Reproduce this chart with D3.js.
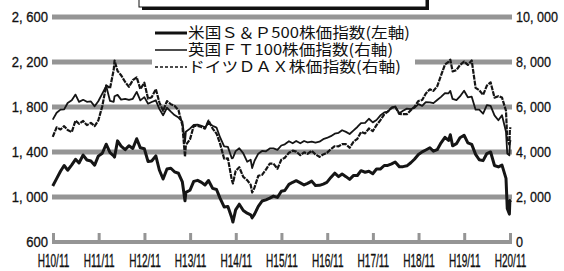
<!DOCTYPE html>
<html><head><meta charset="utf-8">
<script src="https://cdn.jsdelivr.net/npm/d3@7"></script>
<style>
html,body{margin:0;padding:0;background:#fff;}
svg{display:block;}
.num{font-family:"Liberation Sans",Arial,sans-serif;font-size:15px;fill:#111;stroke:#111;stroke-width:0.3px;}
.xl{font-family:"Liberation Sans",Arial,sans-serif;font-size:15px;fill:#111;stroke:#111;stroke-width:0.3px;}
.leg{font-family:"Noto Sans CJK JP","Noto Sans",sans-serif;font-size:15px;fill:#111;}
</style></head>
<body>
<svg id="c" width="564" height="271"></svg>
<script>
// ---- data (month-end closes plus a few intra-month extremes) ----
const dates = [
 "1998-10-30","1998-11-30","1998-12-31",
 "1999-01-29","1999-02-26","1999-03-31","1999-04-30","1999-05-28","1999-06-30","1999-07-30","1999-08-31","1999-09-30","1999-10-29","1999-11-30","1999-12-31",
 "2000-01-31","2000-02-29","2000-03-07","2000-03-31","2000-04-28","2000-05-31","2000-06-30","2000-07-31","2000-08-31","2000-09-29","2000-10-31","2000-11-30","2000-12-29",
 "2001-01-31","2001-02-28","2001-03-30","2001-04-30","2001-05-31","2001-06-29","2001-07-31","2001-08-31","2001-09-21","2001-09-28","2001-10-31","2001-11-30","2001-12-31",
 "2002-01-31","2002-02-28","2002-03-28","2002-04-30","2002-05-31","2002-06-28","2002-07-31","2002-08-30","2002-09-30","2002-10-09","2002-10-31","2002-11-29","2002-12-31",
 "2003-01-31","2003-02-28","2003-03-12","2003-03-31","2003-04-30","2003-05-30","2003-06-30","2003-07-31","2003-08-29","2003-09-30","2003-10-31","2003-11-28","2003-12-31",
 "2004-01-30","2004-02-27","2004-03-31","2004-04-30","2004-05-28","2004-06-30","2004-07-30","2004-08-31","2004-09-30","2004-10-29","2004-11-30","2004-12-31",
 "2005-01-31","2005-02-28","2005-03-31","2005-04-29","2005-05-31","2005-06-30","2005-07-29","2005-08-31","2005-09-30","2005-10-31","2005-11-30","2005-12-30",
 "2006-01-31","2006-02-28","2006-03-31","2006-04-28","2006-05-31","2006-06-30","2006-07-31","2006-08-31","2006-09-29","2006-10-31","2006-11-30","2006-12-29",
 "2007-01-31","2007-02-28","2007-03-30","2007-04-30","2007-05-31","2007-06-29","2007-07-13","2007-07-31","2007-08-31","2007-09-28","2007-10-31","2007-11-30","2007-12-31",
 "2008-01-31","2008-02-29","2008-03-31","2008-04-30","2008-05-30","2008-06-30","2008-07-31","2008-08-29","2008-09-30","2008-10-10","2008-10-27","2008-10-31","2008-11-05"
];
const sp500 = [
 1098,1163,1229,
 1280,1238,1286,1335,1302,1373,1329,1320,1283,1363,1389,1469,
 1394,1366,1355,1499,1452,1421,1455,1431,1518,1437,1429,1315,1320,
 1366,1240,1160,1249,1256,1224,1211,1134,966,1041,1060,1139,1148,
 1130,1107,1147,1077,1067,990,912,916,815,777,886,936,880,
 856,841,815,848,917,964,975,990,1008,996,1051,1058,1112,
 1131,1145,1126,1107,1121,1141,1102,1104,1115,1130,1174,1212,
 1181,1204,1181,1157,1192,1191,1234,1220,1229,1207,1249,1248,
 1280,1281,1295,1311,1270,1270,1277,1304,1336,1378,1401,1418,
 1438,1407,1421,1482,1531,1503,1553,1455,1474,1527,1549,1481,1468,
 1379,1331,1323,1386,1400,1280,1267,1283,1166,899,848,969,953
];
const ftse100 = [
 5438,5743,5883,
 5896,6175,6296,6552,6226,6319,6231,6246,6030,6255,6598,6930,
 6269,6232,6480,6540,6327,6359,6313,6365,6673,6294,6438,6142,6223,
 6298,5918,5634,5967,5796,5643,5529,5345,4434,4903,5040,5204,5217,
 5165,5101,5272,5166,5086,4656,4246,4227,3722,3732,4040,4169,3940,
 3567,3656,3287,3613,3926,4048,4031,4157,4161,4091,4288,4342,4477,
 4390,4492,4386,4489,4431,4464,4413,4459,4571,4624,4703,4814,
 4852,4968,4894,4801,4964,5113,5282,5296,5478,5317,5423,5619,
 5760,5792,5965,6023,5723,5833,5928,5906,5961,6129,6049,6221,
 6203,6172,6308,6449,6621,6608,6716,6360,6303,6467,6722,6432,6457,
 5880,5884,5702,6087,6053,5626,5412,5636,4902,3932,3853,4377,4530
];
const dax = [
 4671,5097,5002,
 5149,4977,4884,5395,5254,5378,5194,5295,5150,5402,6033,6958,
 6835,7644,8065,7599,7414,7109,6898,7192,7319,6799,7078,6372,6434,
 6795,6208,5830,6265,6123,6058,5862,5188,3788,4308,4560,5161,5160,
 5108,5039,5397,5041,4818,4383,3701,3713,2769,2598,3153,3321,2893,
 2747,2548,2203,2424,2942,2983,3221,3487,3485,3257,3656,3746,3965,
 4059,4018,3857,3985,3921,4053,3896,3786,3893,3960,4126,4256,
 4254,4350,4349,4185,4461,4587,4886,4829,5044,4929,5193,5408,
 5674,5797,5970,6009,5692,5683,5682,5860,6005,6269,6309,6597,
 6789,6715,6917,7409,7884,8007,8105,7584,7638,7862,8019,7871,8067,
 6852,6748,6535,6949,7097,6418,6480,6422,5831,4544,4335,4988,5100
];
const leftTicks = [600,1000,1400,1800,2200,2600];
const rightTicks = [0,2000,4000,6000,8000,10000];
const xTickDates = ["1998-11-01","1999-11-01","2000-11-01","2001-11-01","2002-11-01","2003-11-01","2004-11-01","2005-11-01","2006-11-01","2007-11-01","2008-11-01"];
const xTickLabels = ["H10/11","H11/11","H12/11","H13/11","H14/11","H15/11","H16/11","H17/11","H18/11","H19/11","H20/11"];
const legendLabels = ["米国Ｓ＆Ｐ500株価指数(左軸)","英国ＦＴ100株価指数(右軸)","ドイツＤＡＸ株価指数(右軸)"];

// ---- drawing ----
const parse = d3.timeParse("%Y-%m-%d");
const svg = d3.select("#c");
const x = d3.scaleTime().domain([parse("1998-11-01"), parse("2008-11-01")]).range([53, 510]);
const yL = d3.scaleLinear().domain([600, 2600]).range([242, 17]);
const yR = d3.scaleLinear().domain([0, 10000]).range([242, 17]);
const grey = "#959595";
const fmt = d => d3.format(",")(d).replace(",", ", ");

// title box remnant at top
svg.append("rect").attr("x",142).attr("y",-20).attr("width",287).attr("height",30).attr("fill","#111");
svg.append("rect").attr("x",139).attr("y",-20).attr("width",287).attr("height",27).attr("fill","#fff").attr("stroke","#111").attr("stroke-width",1);

// gridlines
svg.append("g").selectAll("line").data(leftTicks.slice(1)).join("line")
  .attr("x1",52).attr("x2",512).attr("y1",d=>yL(d)).attr("y2",d=>yL(d))
  .attr("stroke",grey).attr("stroke-width",5);

// left axis labels (condensed by horizontal scaling)
const gL = svg.append("g").attr("transform","translate(48,0)")
  .call(d3.axisLeft(yL).tickValues(leftTicks).tickSize(0).tickPadding(0).tickFormat(fmt));
gL.select(".domain").remove();
gL.selectAll("text").attr("class","num").attr("font-family",null).attr("font-size",null)
  .attr("transform","scale(0.87,1)");

// right axis labels
const gR = svg.append("g").attr("transform","translate(516,0)")
  .call(d3.axisRight(yR).tickValues(rightTicks).tickSize(0).tickPadding(0).tickFormat(fmt));
gR.select(".domain").remove();
gR.selectAll("text").attr("class","num").attr("font-family",null).attr("font-size",null)
  .attr("transform","scale(0.84,1)");

// bottom axis
svg.append("line").attr("x1",52).attr("x2",512).attr("y1",yL(600)).attr("y2",yL(600))
  .attr("stroke",grey).attr("stroke-width",4);
const gB = svg.append("g").attr("transform",`translate(0,${yL(600)})`)
  .call(d3.axisBottom(x).tickValues(xTickDates.map(parse)).tickSize(-9).tickPadding(9)
        .tickFormat((d,i)=>xTickLabels[i]));
gB.select(".domain").remove();
gB.selectAll(".tick line").attr("stroke",grey).attr("stroke-width",3);
gB.selectAll("text").attr("class","xl").attr("font-family",null).attr("font-size",null)
  .attr("transform","scale(0.67,1.25)");

// legend background (hides grid)
svg.append("rect").attr("x",152).attr("y",23).attr("width",263).attr("height",54).attr("fill","#fff");

// series
const pts = dates.map((d,i)=>({t:parse(d), s:sp500[i], f:ftse100[i], g:dax[i]}));
const lineS = d3.line().x(d=>x(d.t)).y(d=>yL(d.s));
const lineF = d3.line().x(d=>x(d.t)).y(d=>yR(d.f));
const lineG = d3.line().x(d=>x(d.t)).y(d=>yR(d.g));
svg.append("path").datum(pts).attr("d",lineG).attr("fill","none").attr("stroke","#151515").attr("stroke-width",2.2).attr("stroke-dasharray","5,1").attr("stroke-linejoin","round");
svg.append("path").datum(pts).attr("d",lineF).attr("fill","none").attr("stroke","#151515").attr("stroke-width",1.8).attr("stroke-linejoin","round");
svg.append("path").datum(pts).attr("d",lineS).attr("fill","none").attr("stroke","#151515").attr("stroke-width",3).attr("stroke-linejoin","round");

// legend
const legY = [33, 50, 67];
const legW = [222, 205, 213];
const legStyles = [{w:3,d:null},{w:1.5,d:null},{w:1.5,d:"3,2"}];
const lg = svg.append("g");
legendLabels.forEach((t,i)=>{
  lg.append("line").attr("x1",155).attr("x2",187).attr("y1",legY[i]).attr("y2",legY[i])
    .attr("stroke","#111").attr("stroke-width",legStyles[i].w).attr("stroke-dasharray",legStyles[i].d);
  lg.append("text").attr("class","leg").attr("x",188).attr("y",legY[i]).attr("dy","0.36em")
    .attr("textLength",legW[i]).attr("lengthAdjust","spacingAndGlyphs").text(t);
});
</script>
</body></html>
